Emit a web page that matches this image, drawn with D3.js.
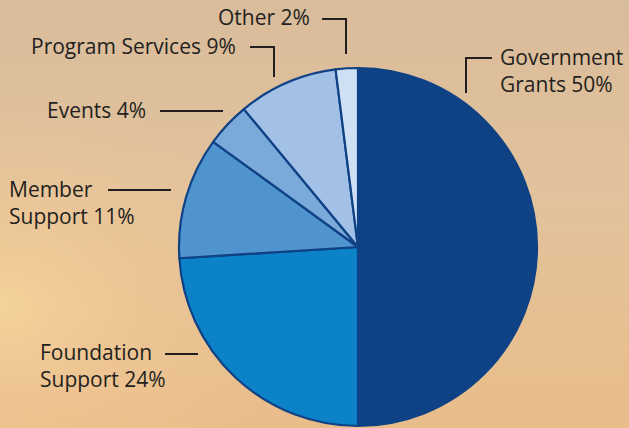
<!DOCTYPE html>
<html>
<head>
<meta charset="utf-8">
<script src="https://cdn.jsdelivr.net/npm/d3@7"></script>
<style>
  html, body { margin: 0; padding: 0; }
  body { width: 629px; height: 428px; overflow: hidden; }
  svg { display: block; }
</style>
</head>
<body>
<svg id="chart" width="629" height="428"></svg>
<script>
// ---- data ----
const categories = ["Government Grants", "Foundation Support", "Member Support", "Events", "Program Services", "Other"];
const values = [50, 24, 11, 4, 9, 2];
const labelLines = [
  ["Government", "Grants 50%"],
  ["Foundation", "Support 24%"],
  ["Member", "Support 11%"],
  ["Events 4%"],
  ["Program Services 9%"],
  ["Other 2%"]
];
const colors = ["#0f4185", "#0c82c8", "#4f93cf", "#7aa9da", "#a3c0e6", "#cfe0f5"];

// ---- layout (label placement, not data) ----
const labelLayout = [
  { x: 500, y: 65, anchor: "start", line: [[492, 58], [466, 58], [466, 93]] },
  { x: 40,  y: 360, anchor: "start", line: [[165, 354], [198, 354]] },
  { x: 9,   y: 197, anchor: "start", line: [[108, 190], [171, 190]] },
  { x: 47,  y: 118, anchor: "start", line: [[160, 111], [223, 111]] },
  { x: 31,  y: 54, anchor: "start", line: [[250, 47], [274, 47], [274, 77]] },
  { x: 218, y: 25, anchor: "start", line: [[322, 19], [346, 19], [346, 54]] }
];

const W = 629, H = 428;
const cx = 358, cy = 247, R = 179;
const svg = d3.select("#chart");
const defs = svg.append("defs");

// background gradient (sunset)
const lg = defs.append("linearGradient").attr("id", "bg").attr("x1", 0).attr("y1", 0).attr("x2", 0).attr("y2", 1);
lg.append("stop").attr("offset", "0%").attr("stop-color", "#d9bc9b");
lg.append("stop").attr("offset", "45%").attr("stop-color", "#e2c29c");
lg.append("stop").attr("offset", "100%").attr("stop-color", "#e9bd8a");
svg.append("rect").attr("width", W).attr("height", H).attr("fill", "url(#bg)");

const rg = defs.append("radialGradient").attr("id", "glow")
  .attr("cx", 0.0).attr("cy", 0.72).attr("r", 0.5);
rg.append("stop").attr("offset", "0%").attr("stop-color", "#f8d59c").attr("stop-opacity", 0.85);
rg.append("stop").attr("offset", "50%").attr("stop-color", "#f2c995").attr("stop-opacity", 0.45);
rg.append("stop").attr("offset", "100%").attr("stop-color", "#f2c995").attr("stop-opacity", 0);
svg.append("rect").attr("width", W).attr("height", H).attr("fill", "url(#glow)");

// pie
const pie = d3.pie().sort(null).value(d => d);
const arcs = pie(values);
const arc = d3.arc().innerRadius(0).outerRadius(R);
const color = d3.scaleOrdinal().domain(categories).range(colors);

const g = svg.append("g").attr("transform", `translate(${cx},${cy})`);
g.selectAll("path.slice")
  .data(arcs)
  .join("path")
  .attr("class", "slice")
  .attr("d", arc)
  .attr("fill", (d, i) => color(categories[i]))
  .attr("stroke", "#0f4185")
  .attr("stroke-width", 2.2)
  .attr("stroke-linejoin", "round");

// labels & leaders
const lab = svg.append("g");
labelLayout.forEach((L, i) => {
  lab.append("path")
    .attr("d", d3.line()(L.line))
    .attr("fill", "none")
    .attr("stroke", "#231f20")
    .attr("stroke-width", 2);
  const t = lab.append("text")
    .attr("x", L.x).attr("y", L.y)
    .attr("text-anchor", L.anchor)
    .attr("font-family", "'Open Sans', 'Noto Sans', sans-serif")
    .attr("font-size", 21)
    .attr("fill", "#231f20");
  labelLines[i].forEach((s, j) => {
    t.append("tspan").attr("x", L.x).attr("dy", j === 0 ? 0 : 26.5).text(s);
  });
});
</script>
</body>
</html>
